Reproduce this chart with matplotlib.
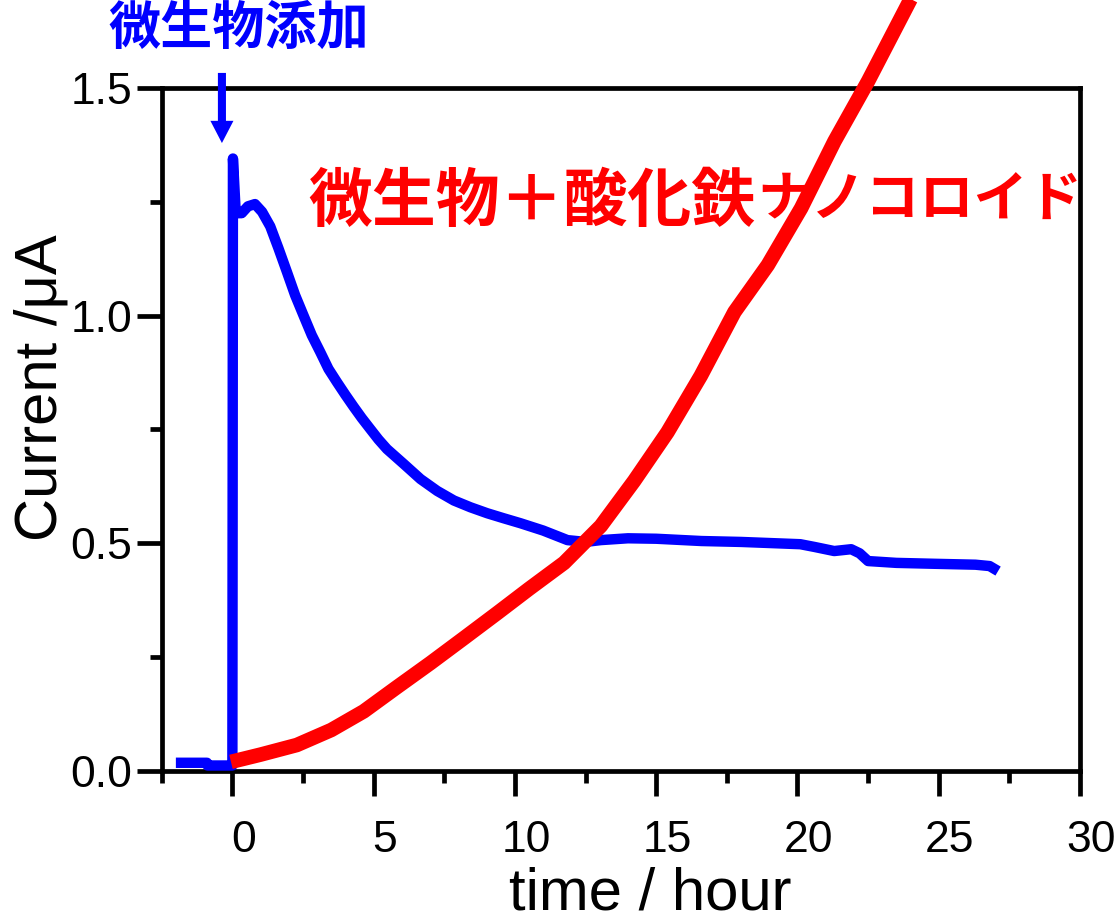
import matplotlib
matplotlib.use("Agg")
import matplotlib.pyplot as plt
import matplotlib.transforms as mtransforms
from matplotlib.ticker import MultipleLocator

# Current response after microbe addition (blue)
microbe_t = [-2.0, -0.9, -0.88, -0.02, 0.0, 0.02, 0.12, 0.33, 0.55, 0.8, 1.05, 1.34,
             1.63, 1.93, 2.22, 2.52, 2.81, 3.11, 3.40, 3.70, 4.0, 4.29, 4.58, 4.88,
             5.17, 5.47, 6.07, 6.66, 7.25, 7.84, 8.43, 9.02, 9.6, 10.2, 11.0, 11.86,
             12.5, 13.04, 14.0, 15.0, 16.6, 18.0, 20.1, 20.6, 21.3, 21.9, 22.2,
             22.5, 23.5, 24.85, 26.3, 26.8, 27.1]
microbe_i = [0.018, 0.018, 0.012, 0.012, 0.012, 1.345, 1.225, 1.225, 1.24, 1.245, 1.228,
             1.196, 1.148, 1.096, 1.045, 1.0, 0.957, 0.92, 0.883, 0.854, 0.826, 0.80,
             0.775, 0.751, 0.728, 0.707, 0.674, 0.641, 0.615, 0.594, 0.579, 0.566,
             0.555, 0.544, 0.528, 0.507, 0.503, 0.507, 0.511, 0.510, 0.505, 0.503,
             0.498, 0.492, 0.483, 0.487, 0.478, 0.461, 0.457, 0.455, 0.453, 0.450,
             0.439]

# Current with microbes + iron oxide nanocolloid (red)
colloid_t = [-0.05, 1.0, 2.28, 3.5, 4.65, 5.8, 7.01, 8.2, 9.38, 10.5, 11.74, 13.04,
             14.22, 15.4, 16.58, 17.77, 18.95, 20.13, 21.31, 22.5, 24.03, 24.6]
colloid_i = [0.02, 0.036, 0.057, 0.09, 0.131, 0.183, 0.237, 0.292, 0.347, 0.40,
             0.457, 0.538, 0.637, 0.744, 0.868, 1.008, 1.111, 1.236, 1.383, 1.515,
             1.698, 1.77]

x_ticks = [0, 5, 10, 15, 20, 25, 30]
y_ticks = [0.0, 0.5, 1.0, 1.5]
y_tick_labels = ["0.0", "0.5", "1.0", "1.5"]

label_addition = "微生物添加"
label_colloid_kanji = "微生物＋酸化鉄"
label_colloid_kana = "ナノコロイド"

plt.rcParams['font.family'] = ['Liberation Sans', 'DejaVu Sans']
cjk = ['Noto Sans CJK JP', 'DejaVu Sans']

fig = plt.figure(figsize=(11.17, 9.21), dpi=100)
ax = fig.add_axes([0.1448, 0.1629, 0.9669 - 0.1448, 0.9045 - 0.1629])

ax.plot(microbe_t, microbe_i, color=(0, 0, 1), lw=7.5, solid_capstyle='butt',
        solid_joinstyle='round', zorder=3)
ax.plot(colloid_t, colloid_i, color=(1, 0, 0), lw=10.5, solid_capstyle='butt',
        solid_joinstyle='round', zorder=4, clip_on=False)

ax.set_xlim(-2.5, 30)
ax.set_ylim(0, 1.5)
ax.set_xticks(x_ticks)
ax.set_yticks(y_ticks)
ax.set_yticklabels(y_tick_labels)
ax.xaxis.set_minor_locator(MultipleLocator(2.5))
ax.yaxis.set_minor_locator(MultipleLocator(0.25))

for s in ax.spines.values():
    s.set_linewidth(3.4)
ax.tick_params(which='major', direction='out', length=18, width=3.4,
               labelsize=32, top=False, right=False)
ax.tick_params(which='minor', direction='out', length=8.5, width=3.4,
               top=False, right=False)
ax.tick_params(axis='x', which='major', pad=17)
ax.tick_params(axis='y', which='major', pad=3)

ax.set_xlabel("time / hour", fontsize=43)
ax.xaxis.set_label_coords(0.532, -0.14)
ax.set_ylabel("Current /μA", fontsize=43)
ax.yaxis.set_label_coords(-0.102, 0.561)

# nudge x tick labels slightly to the right
shift = mtransforms.ScaledTranslation(11 / 100, 0, fig.dpi_scale_trans)
for tick in ax.xaxis.get_major_ticks():
    tick.label1.set_transform(tick.label1.get_transform() + shift)

# addition marker
ax.annotate("", xy=(-0.37, 1.379), xytext=(-0.37, 1.533),
            arrowprops=dict(arrowstyle='simple,head_length=0.8,head_width=0.83,tail_width=0.29',
                            mutation_scale=20, fc=(0, 0, 1), ec='none',
                            shrinkA=0, shrinkB=0),
            annotation_clip=False)
ax.text(-4.4, 1.63, label_addition, color=(0, 0, 1), fontsize=37.5,
        fontweight='bold', family=cjk, ha='left', va='center', clip_on=False)

# label of the red curve: kanji part, then the narrower katakana part
ax.text(10.59, 1.25, label_colloid_kanji, color=(1, 0, 0), fontsize=46,
        fontweight='bold', family=cjk, ha='center', va='center', zorder=2)
ax.text(24.33, 1.25, label_colloid_kana, color=(1, 0, 0), fontsize=39,
        fontweight='bold', family=cjk, ha='center', va='center', zorder=2)

fig.savefig("out.png", dpi=100)
